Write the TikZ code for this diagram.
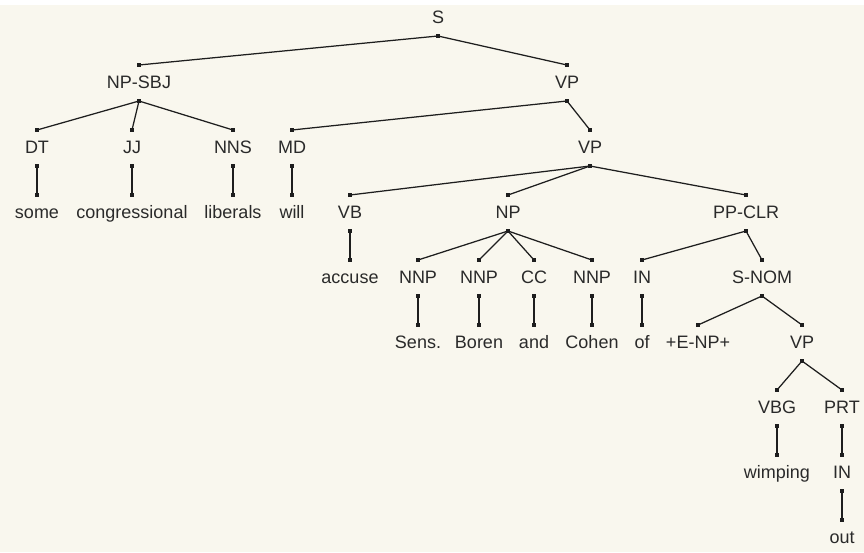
\documentclass[tikz,border=0pt]{standalone}
\usepackage{fontspec}
\setmainfont{Liberation Sans}
\definecolor{paper}{HTML}{F9F7EE}
\definecolor{ink}{HTML}{1E1E1E}
\definecolor{txt}{HTML}{2A2A2A}
\tikzset{
  lbl/.style={anchor=base, inner sep=0pt, text=txt, font=\fontsize{18}{21}\selectfont},
  edge/.style={draw=ink, line width=1.25pt},
  dot/.style={rectangle, fill=ink, inner sep=0pt, minimum size=4pt},
}
% tree label: name, x, level, text; defines (name-t) and (name-b) dot points
\newcommand{\tnode}[4]{%
  \pgfmathsetmacro{\basey}{23+65*#3}%
  \node[lbl] (#1) at (#2,\basey) {#4};
  \coordinate (#1-t) at (#2,\basey-23);
  \coordinate (#1-b) at (#2,\basey+13);
}
\begin{document}
\begin{tikzpicture}[x=1pt,y=-1pt]
  \fill[paper] (0,0) rectangle (864,552);
  \fill[white] (0,0) rectangle (864,5);
  \useasboundingbox (0,0) rectangle (864,552);

  \tnode{S}{438}{0}{S}
  \tnode{NPSBJ}{139}{1}{NP-SBJ}
  \tnode{VPa}{567}{1}{VP}
  \tnode{DT}{37}{2}{DT}
  \tnode{JJ}{132}{2}{JJ}
  \tnode{NNS}{233}{2}{NNS}
  \tnode{MD}{292}{2}{MD}
  \tnode{VPb}{590}{2}{VP}
  \tnode{some}{37}{3}{some}
  \tnode{congressional}{132}{3}{congressional}
  \tnode{liberals}{233}{3}{liberals}
  \tnode{will}{292}{3}{will}
  \tnode{VB}{350}{3}{VB}
  \tnode{NP}{508}{3}{NP}
  \tnode{PPCLR}{746}{3}{PP-CLR}
  \tnode{accuse}{350}{4}{accuse}
  \tnode{NNPa}{418}{4}{NNP}
  \tnode{NNPb}{479}{4}{NNP}
  \tnode{CC}{534}{4}{CC}
  \tnode{NNPc}{592}{4}{NNP}
  \tnode{INa}{642}{4}{IN}
  \tnode{SNOM}{762}{4}{S-NOM}
  \tnode{Sens}{418}{5}{Sens.}
  \tnode{Boren}{479}{5}{Boren}
  \tnode{and}{534}{5}{and}
  \tnode{Cohen}{592}{5}{Cohen}
  \tnode{of}{642}{5}{of}
  \tnode{ENP}{698}{5}{+E-NP+}
  \tnode{VPc}{802}{5}{VP}
  \tnode{VBG}{777}{6}{VBG}
  \tnode{PRT}{842}{6}{PRT}
  \tnode{wimping}{777}{7}{wimping}
  \tnode{INb}{842}{7}{IN}
  \tnode{out}{842}{8}{out}

  \foreach \p/\c in {S/NPSBJ, S/VPa,
      NPSBJ/DT, NPSBJ/JJ, NPSBJ/NNS, VPa/MD, VPa/VPb,
      DT/some, JJ/congressional, NNS/liberals, MD/will,
      VPb/VB, VPb/NP, VPb/PPCLR,
      VB/accuse, NP/NNPa, NP/NNPb, NP/CC, NP/NNPc, PPCLR/INa, PPCLR/SNOM,
      NNPa/Sens, NNPb/Boren, CC/and, NNPc/Cohen, INa/of, SNOM/ENP, SNOM/VPc,
      VPc/VBG, VPc/PRT, VBG/wimping, PRT/INb, INb/out}
    \draw[edge] (\p-b) node[dot]{} -- (\c-t) node[dot]{};
\end{tikzpicture}
\end{document}
